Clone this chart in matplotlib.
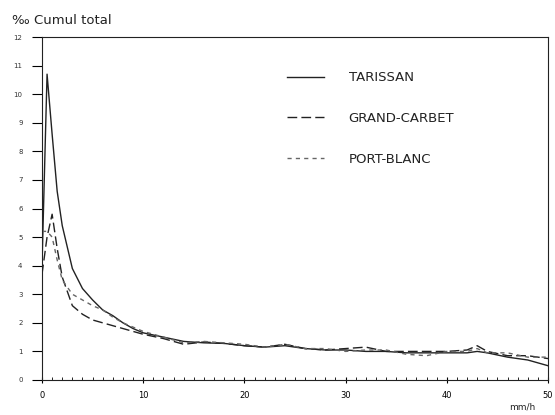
import matplotlib
matplotlib.use("Agg")
import matplotlib.pyplot as plt
from matplotlib.ticker import MultipleLocator

# intensity (mm/h)
x = [0, 0.5, 1, 1.5, 2, 3, 4, 5, 6, 7, 8, 9, 10, 12, 14, 16, 18, 20, 22, 24,
     26, 28, 30, 32, 34, 36, 38, 40, 42, 43, 44, 46, 48, 50]

tarissan = [4.0, 10.7, 8.6, 6.6, 5.4, 3.9, 3.2, 2.8, 2.45, 2.25, 2.0, 1.8, 1.65,
            1.5, 1.35, 1.3, 1.28, 1.2, 1.15, 1.2, 1.1, 1.05, 1.05, 1.0, 1.0,
            0.95, 0.95, 0.95, 0.95, 1.0, 0.95, 0.8, 0.7, 0.5]
grand_carbet = [3.7, 5.0, 5.8, 4.6, 3.6, 2.6, 2.3, 2.1, 2.0, 1.9, 1.8, 1.7, 1.6,
                1.45, 1.25, 1.33, 1.28, 1.2, 1.15, 1.25, 1.1, 1.05, 1.1, 1.15,
                1.0, 1.0, 1.0, 1.0, 1.05, 1.2, 1.0, 0.85, 0.85, 0.75]
port_blanc = [5.2, 5.2, 5.0, 4.2, 3.5, 3.0, 2.8, 2.6, 2.45, 2.2, 2.0, 1.85, 1.7,
              1.5, 1.3, 1.35, 1.3, 1.25, 1.15, 1.25, 1.1, 1.1, 1.0, 1.05, 1.05,
              0.9, 0.85, 1.0, 1.0, 1.1, 0.95, 0.95, 0.8, 0.8]

labels = ["TARISSAN", "GRAND-CARBET", "PORT-BLANC"]
xticks = [0, 10, 20, 30, 40, 50]
yticks = list(range(0, 13))

fig = plt.figure(figsize=(5.55, 4.15), dpi=100)
ax = fig.add_axes([42 / 555, 1 - 380 / 415, (548 - 42) / 555, (380 - 37) / 415])

ax.plot(x, tarissan, color="#222222", lw=1.0, ls="-", label=labels[0])
ax.plot(x, grand_carbet, color="#222222", lw=1.0, dashes=(7, 3), label=labels[1])
ax.plot(x, port_blanc, color="#666666", lw=1.0, dashes=(3, 3), label=labels[2])

ax.set_xlim(0, 50)
ax.set_ylim(0, 12)
ax.set_xticks(xticks)
ax.set_xticklabels([str(v) for v in xticks], fontsize=6)
ax.xaxis.set_minor_locator(MultipleLocator(1))
ax.set_yticks(yticks)
ax.set_yticklabels([str(v) for v in yticks], fontsize=5, color="#333333")
ax.tick_params(axis="x", which="major", direction="inout", length=4, width=0.8, pad=6)
ax.tick_params(axis="x", which="minor", direction="in", length=2, width=0.6)
ax.tick_params(axis="y", direction="out", length=7, width=0.8, pad=7)
for s in ax.spines.values():
    s.set_linewidth(0.8)
    s.set_color("#222222")

leg = ax.legend(loc="upper left", bbox_to_anchor=(0.46, 0.935), frameon=False,
                handlelength=2.8, handletextpad=1.9, labelspacing=2.1,
                prop={"size": 9.5})
for t in leg.get_texts():
    t.set_color("#222222")

fig.text(12 / 555, 1 - 21 / 415, "‰ Cumul total", fontsize=9.5, color="#222222",
         va="center", ha="left")
fig.text(522 / 555, 1 - 407 / 415, "mm/h", fontsize=6.5, color="#222222",
         va="center", ha="center")

fig.savefig("out.png", dpi=100)
